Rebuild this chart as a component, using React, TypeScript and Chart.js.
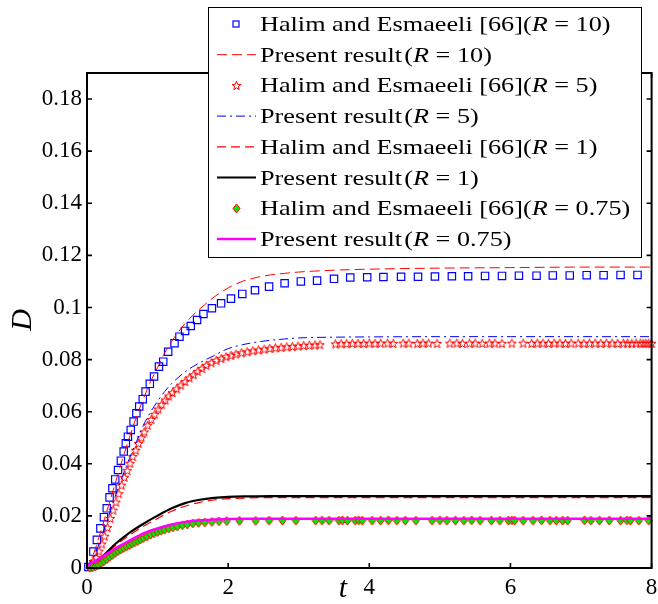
import { useEffect, useRef } from 'react';
import { Chart, registerables } from 'chart.js';

Chart.register(...registerables);

const SERIF = "'Liberation Serif', 'Times New Roman', serif";

// Axis ticks
const xTicks = [0, 2, 4, 6, 8];
const yTicks = [0, 0.02, 0.04, 0.06, 0.08, 0.1, 0.12, 0.14, 0.16, 0.18];
const yTickLabels = ['0', '0.02', '0.04', '0.06', '0.08', '0.1', '0.12', '0.14', '0.16', '0.18'];

// Halim and Esmaeeli [66], R = 10 (squares)
const halim10T = [0.02, 0.09, 0.14, 0.19, 0.24, 0.28, 0.32, 0.36, 0.40, 0.44, 0.48, 0.52, 0.55, 0.58, 0.62, 0.66, 0.70, 0.74, 0.79, 0.83, 0.89, 0.95, 1.02, 1.08, 1.15, 1.24, 1.31, 1.39, 1.47, 1.56, 1.65, 1.77, 1.90, 2.04, 2.20, 2.38, 2.58, 2.80, 3.03, 3.26, 3.50, 3.73, 3.97, 4.20, 4.45, 4.69, 4.93, 5.17, 5.40, 5.64, 5.88, 6.12, 6.37, 6.60, 6.84, 7.08, 7.32, 7.56, 7.80];
const halim10D = [0.0004, 0.0063, 0.0108, 0.0152, 0.0195, 0.0229, 0.0271, 0.0306, 0.0340, 0.0376, 0.0412, 0.0447, 0.0479, 0.0504, 0.0530, 0.0562, 0.0594, 0.0620, 0.0648, 0.0677, 0.0707, 0.0735, 0.0773, 0.0792, 0.0830, 0.0863, 0.0888, 0.0910, 0.0929, 0.0952, 0.0975, 0.0997, 0.1016, 0.1034, 0.1052, 0.1066, 0.1080, 0.1093, 0.1100, 0.1103, 0.1110, 0.1115, 0.1116, 0.1117, 0.1118, 0.1118, 0.1119, 0.1120, 0.1120, 0.1121, 0.1121, 0.1122, 0.1122, 0.1123, 0.1123, 0.1124, 0.1124, 0.1125, 0.1125];

// Present result, R = 10
const present10T = [0, 0.1, 0.2, 0.3, 0.4, 0.5, 0.6, 0.7, 0.8, 0.9, 1.0, 1.1, 1.2, 1.3, 1.4, 1.5, 1.6, 1.7, 1.8, 2.0, 2.2, 2.4, 2.6, 2.8, 3.0, 3.5, 4, 5, 6, 7, 8];
const present10D = [0, 0.006, 0.0145, 0.0235, 0.0325, 0.0415, 0.050, 0.058, 0.065, 0.0715, 0.077, 0.0825, 0.087, 0.0908, 0.0942, 0.097, 0.0995, 0.1018, 0.1040, 0.1075, 0.1100, 0.1115, 0.1125, 0.1131, 0.1136, 0.1143, 0.1147, 0.1151, 0.1153, 0.1155, 0.1155];

// Halim and Esmaeeli [66], R = 5 (stars)
const halim5T = [0.05, 0.09, 0.13, 0.17, 0.21, 0.25, 0.29, 0.33, 0.37, 0.41, 0.45, 0.49, 0.53, 0.57, 0.61, 0.65, 0.69, 0.73, 0.77, 0.81, 0.86, 0.91, 0.96, 1.01, 1.06, 1.11, 1.16, 1.21, 1.27, 1.33, 1.39, 1.45, 1.51, 1.57, 1.63, 1.69, 1.76, 1.83, 1.90, 1.97, 2.04, 2.11, 2.19, 2.27, 2.35, 2.43, 2.51, 2.59, 2.67, 2.75, 2.83, 2.91, 2.99, 3.07, 3.15, 3.23, 3.30,
  3.52, 3.60, 3.68, 3.76, 3.84, 3.92, 4.00, 4.08, 4.16, 4.26, 4.34, 4.48, 4.56, 4.68, 4.76, 4.84, 4.96, 5.14, 5.24, 5.32, 5.42, 5.50, 5.60, 5.70, 5.78, 5.88, 6.02, 6.18, 6.30, 6.38, 6.46, 6.54, 6.62, 6.70, 6.78, 6.86, 6.96, 7.04, 7.12, 7.20, 7.28, 7.36, 7.44, 7.52, 7.60, 7.66, 7.72, 7.78, 7.84, 7.88, 7.92, 7.96, 8.00];
const halim5D = [0.001, 0.0025, 0.004, 0.0065, 0.0092, 0.0122, 0.0155, 0.0190, 0.0222, 0.0253, 0.0285, 0.0318, 0.0348, 0.0374, 0.0402, 0.0428, 0.0452, 0.0478, 0.0500, 0.0522, 0.0548, 0.0570, 0.0590, 0.0610, 0.0628, 0.0645, 0.0660, 0.0673, 0.0688, 0.0702, 0.0716, 0.0730, 0.0742, 0.0755, 0.0766, 0.0778, 0.0788, 0.0797, 0.0804, 0.0811, 0.0816, 0.0821, 0.0826, 0.0830, 0.0834, 0.0837, 0.0840, 0.0843, 0.0845, 0.0847, 0.0849, 0.0850, 0.0852, 0.0854, 0.0855, 0.0856, 0.0857,
  0.0860, 0.0861, 0.0861, 0.0862, 0.0862, 0.0862, 0.0863, 0.0862, 0.0863, 0.0863, 0.0862, 0.0863, 0.0863, 0.0862, 0.0863, 0.0863, 0.0862, 0.0863, 0.0863, 0.0862, 0.0863, 0.0863, 0.0862, 0.0863, 0.0863, 0.0862, 0.0863, 0.0863, 0.0862, 0.0863, 0.0863, 0.0862, 0.0863, 0.0863, 0.0862, 0.0863, 0.0863, 0.0862, 0.0863, 0.0863, 0.0862, 0.0863, 0.0863, 0.0862, 0.0863, 0.0863, 0.0862, 0.0863, 0.0863, 0.0862, 0.0863, 0.0863, 0.0862];

// Present result, R = 5
const present5T = [0, 0.1, 0.2, 0.3, 0.4, 0.5, 0.6, 0.7, 0.8, 0.9, 1.0, 1.1, 1.2, 1.3, 1.4, 1.5, 1.6, 1.7, 1.8, 1.9, 2.0, 2.2, 2.4, 2.6, 2.8, 3.0, 3.5, 4, 5, 6, 7, 8];
const present5D = [0, 0.0045, 0.0115, 0.0195, 0.0275, 0.0350, 0.0420, 0.0485, 0.0548, 0.0598, 0.0640, 0.0677, 0.0708, 0.0733, 0.0755, 0.0773, 0.0788, 0.0802, 0.0815, 0.0830, 0.0842, 0.0857, 0.0867, 0.0874, 0.0879, 0.0883, 0.0886, 0.0887, 0.0888, 0.0888, 0.0888, 0.0888];

// Halim and Esmaeeli [66], R = 1 (dashed line)
const halim1T = [0, 0.2, 0.4, 0.6, 0.8, 1.0, 1.2, 1.4, 1.6, 1.8, 2.0, 2.3, 2.6, 3, 4, 5, 6, 7, 8];
const halim1D = [0, 0.0035, 0.0085, 0.0125, 0.0160, 0.0190, 0.0218, 0.0238, 0.0252, 0.0261, 0.0266, 0.0269, 0.0270, 0.0270, 0.0270, 0.0270, 0.0270, 0.0270, 0.0270];

// Present result, R = 1
const present1T = [0, 0.2, 0.4, 0.6, 0.8, 1.0, 1.2, 1.4, 1.6, 1.8, 2.0, 2.3, 2.6, 3, 4, 5, 6, 7, 8];
const present1D = [0.0005, 0.0040, 0.0092, 0.0135, 0.0170, 0.0201, 0.0229, 0.0250, 0.0262, 0.0269, 0.0273, 0.0275, 0.0276, 0.0276, 0.0276, 0.0276, 0.0276, 0.0276, 0.0276];

// Halim and Esmaeeli [66], R = 0.75 (diamonds)
const halim075T = [0.04, 0.08, 0.12, 0.16, 0.20, 0.24, 0.28, 0.32, 0.36, 0.40, 0.44, 0.48, 0.52, 0.56, 0.60, 0.64, 0.68, 0.72, 0.76, 0.80, 0.85, 0.90, 0.95, 1.00, 1.05, 1.10, 1.16, 1.22, 1.28, 1.35, 1.42, 1.50, 1.58, 1.67, 1.77, 1.87, 1.98,
  2.16, 2.39, 2.58, 2.77, 2.96, 3.24, 3.33, 3.43, 3.57, 3.62, 3.69, 3.80, 3.85, 3.90, 4.04, 4.16, 4.27, 4.39, 4.51, 4.66, 4.89, 5.00, 5.10, 5.22, 5.34, 5.45, 5.57, 5.73, 5.85, 5.97, 6.02, 6.06, 6.18, 6.32, 6.44, 6.56, 6.65, 6.74, 6.81, 7.05, 7.14, 7.26, 7.40, 7.56, 7.65, 7.70, 7.82, 7.96];
const halim075D = [0.0001, 0.0003, 0.0006, 0.0011, 0.0018, 0.0026, 0.0034, 0.0042, 0.0050, 0.0058, 0.0065, 0.0071, 0.0077, 0.0083, 0.0088, 0.0094, 0.0099, 0.0104, 0.0110, 0.0115, 0.0121, 0.0128, 0.0133, 0.0138, 0.0143, 0.0147, 0.0152, 0.0156, 0.0160, 0.0164, 0.0167, 0.0171, 0.0173, 0.0175, 0.0177, 0.0179, 0.0180,
  0.0181, 0.0181, 0.0182, 0.0182, 0.0182, 0.0182, 0.0182, 0.0182, 0.0182, 0.0183, 0.0182, 0.0182, 0.0183, 0.0182, 0.0182, 0.0182, 0.0183, 0.0182, 0.0182, 0.0182, 0.0182, 0.0183, 0.0182, 0.0182, 0.0182, 0.0183, 0.0182, 0.0182, 0.0182, 0.0182, 0.0183, 0.0182, 0.0182, 0.0182, 0.0183, 0.0182, 0.0182, 0.0182, 0.0182, 0.0183, 0.0182, 0.0182, 0.0182, 0.0182, 0.0183, 0.0182, 0.0182, 0.0182];

// Present result, R = 0.75
const present075T = [0, 0.2, 0.4, 0.6, 0.8, 1.0, 1.2, 1.4, 1.6, 1.8, 2.0, 2.3, 2.6, 3, 4, 5, 6, 7, 8];
const present075D = [0.0008, 0.0040, 0.0075, 0.0105, 0.0133, 0.0152, 0.0167, 0.0177, 0.0183, 0.0186, 0.0188, 0.0189, 0.0189, 0.0189, 0.0189, 0.0189, 0.0189, 0.0189, 0.0189];

// Legend entries
const legendNames = ['Halim and Esmaeeli [66]', 'Present result\u200A', 'Halim and Esmaeeli [66]', 'Present result\u200A', 'Halim and Esmaeeli [66]', 'Present result\u200A', 'Halim and Esmaeeli [66]', 'Present result\u200A'];
const legendR = ['10', '10', '5', '5', '1', '1', '0.75', '0.75'];

const pts = (t: number[], d: number[]) => t.map((v, i) => ({ x: v, y: d[i] }));

function starImage(): HTMLCanvasElement {
  const c = document.createElement('canvas');
  const s = 11;
  c.width = s;
  c.height = s;
  const g = c.getContext('2d')!;
  g.strokeStyle = '#ff0000';
  g.lineWidth = 1;
  g.beginPath();
  for (let k = 0; k < 10; k++) {
    const a = -Math.PI / 2 + (k * Math.PI) / 5;
    const r = k % 2 === 0 ? 4.7 : 1.9;
    const px = s / 2 + r * Math.cos(a);
    const py = s / 2 + 0.4 + r * Math.sin(a);
    if (k === 0) g.moveTo(px, py);
    else g.lineTo(px, py);
  }
  g.closePath();
  g.stroke();
  return c;
}

function diamondImage(): HTMLCanvasElement {
  const c = document.createElement('canvas');
  c.width = 9;
  c.height = 11;
  const g = c.getContext('2d')!;
  g.beginPath();
  g.moveTo(4.5, 1);
  g.lineTo(8, 5.5);
  g.lineTo(4.5, 10);
  g.lineTo(1, 5.5);
  g.closePath();
  g.fillStyle = '#00ee00';
  g.fill();
  g.strokeStyle = '#ff0000';
  g.lineWidth = 1;
  g.stroke();
  return c;
}

export default function App() {
  const ref = useRef<HTMLCanvasElement>(null);

  useEffect(() => {
    const canvas = ref.current;
    if (!canvas) return;
    const star = starImage();
    const diamond = diamondImage();

    const datasets: any[] = [
      { data: pts(halim10T, halim10D), pointStyle: 'rect', pointRadius: 5.2, borderColor: '#0000ff', backgroundColor: 'rgba(0,0,0,0)', borderWidth: 1, pointBorderWidth: 1.2, clip: 8 },
      { data: pts(present10T, present10D), showLine: true, pointRadius: 0, borderColor: '#ff0000', borderWidth: 1, borderDash: [10, 5], cubicInterpolationMode: 'monotone' },
      { data: pts(halim5T, halim5D), pointStyle: star, pointRadius: 5, borderColor: '#ff0000', clip: 8 },
      { data: pts(present5T, present5D), showLine: true, pointRadius: 0, borderColor: '#0000ff', borderWidth: 1, borderDash: [9, 4, 2, 4], cubicInterpolationMode: 'monotone' },
      { data: pts(halim1T, halim1D), showLine: true, pointRadius: 0, borderColor: '#ff0000', borderWidth: 1.2, borderDash: [9, 5], cubicInterpolationMode: 'monotone' },
      { data: pts(present1T, present1D), showLine: true, pointRadius: 0, borderColor: '#000000', borderWidth: 2.2, cubicInterpolationMode: 'monotone' },
      { data: pts(halim075T, halim075D), pointStyle: diamond, pointRadius: 5, borderColor: '#ff0000', clip: 8 },
      { data: pts(present075T, present075D), showLine: true, pointRadius: 0, borderColor: '#ff00ff', borderWidth: 2.5, cubicInterpolationMode: 'monotone' },
    ];
    // later series drawn on top
    datasets.forEach((d, i) => { d.order = datasets.length - i; });

    const frame = {
      id: 'frame',
      afterDatasetsDraw(chart: any) {
        const { ctx, chartArea, scales } = chart;
        const { left, right, top, bottom } = chartArea;
        ctx.save();
        ctx.strokeStyle = '#000';
        ctx.lineWidth = 2;
        ctx.strokeRect(left, top, right - left, bottom - top);
        ctx.lineWidth = 1.6;
        ctx.beginPath();
        const tl = 5;
        xTicks.forEach((v) => {
          const px = scales.x.getPixelForValue(v);
          ctx.moveTo(px, bottom);
          ctx.lineTo(px, bottom - tl);
          ctx.moveTo(px, top);
          ctx.lineTo(px, top + tl);
        });
        yTicks.forEach((v) => {
          const py = scales.y.getPixelForValue(v);
          ctx.moveTo(left, py);
          ctx.lineTo(left + tl, py);
          ctx.moveTo(right, py);
          ctx.lineTo(right - tl, py);
        });
        ctx.stroke();
        ctx.restore();
      },
    };

    const legendBox = {
      id: 'legendBox',
      afterDraw(chart: any) {
        const { ctx } = chart;
        ctx.save();
        // axis titles
        ctx.fillStyle = '#000';
        ctx.font = `italic 30px ${SERIF}`;
        ctx.textAlign = 'center';
        ctx.textBaseline = 'middle';
        ctx.save();
        ctx.translate(23, 320);
        ctx.rotate(-Math.PI / 2);
        ctx.fillText('D', 0, 0);
        ctx.restore();
        ctx.fillText('t', 343, 589);

        // legend box
        const bx = 208, by = 7, bw = 433, bh = 250;
        ctx.fillStyle = '#fff';
        ctx.fillRect(bx, by, bw, bh);
        ctx.strokeStyle = '#000';
        ctx.lineWidth = 1;
        ctx.strokeRect(bx + 0.5, by + 0.5, bw, bh);

        const rowH = 30.7;
        const sx = 1.22;
        const size = 21.5;
        datasets.forEach((d, i) => {
          const cy = 24 + i * rowH;
          if (d.showLine) {
            ctx.save();
            ctx.strokeStyle = d.borderColor;
            ctx.lineWidth = d.borderWidth;
            ctx.setLineDash(d.borderDash || []);
            ctx.beginPath();
            ctx.moveTo(217, cy);
            ctx.lineTo(256, cy);
            ctx.stroke();
            ctx.restore();
          } else if (d.pointStyle === 'rect') {
            ctx.save();
            ctx.strokeStyle = d.borderColor;
            ctx.lineWidth = 1.2;
            ctx.strokeRect(233, cy - 3, 6, 6);
            ctx.restore();
          } else {
            const img = d.pointStyle as HTMLCanvasElement;
            ctx.drawImage(img, Math.round(236 - img.width / 2), Math.round(cy - img.height / 2));
          }
          // label text: name, italic R, value
          ctx.save();
          ctx.translate(260, cy + 7);
          ctx.scale(sx, 1);
          ctx.fillStyle = '#000';
          ctx.textAlign = 'left';
          ctx.textBaseline = 'alphabetic';
          const parts: [string, boolean][] = [[legendNames[i] + '(', false], ['R', true], [' = ' + legendR[i] + ')', false]];
          let cx = 0;
          parts.forEach(([txt, it]) => {
            ctx.font = `${it ? 'italic ' : ''}${size}px ${SERIF}`;
            ctx.fillText(txt, cx, 0);
            cx += ctx.measureText(txt).width;
          });
          ctx.restore();
        });
        ctx.restore();
      },
    };

    const tickFont = { family: SERIF, size: 23 };

    const chart = new Chart(canvas, {
      type: 'scatter',
      data: { datasets },
      options: {
        animation: false,
        responsive: false,
        events: [],
        layout: { padding: { top: 73, right: 4, left: 0, bottom: 0 } },
        plugins: { legend: { display: false }, tooltip: { enabled: false } },
        scales: {
          x: {
            type: 'linear',
            min: 0,
            max: 8,
            grid: { display: false, drawTicks: false },
            border: { display: false },
            afterBuildTicks: (s: any) => { s.ticks = xTicks.map((value) => ({ value })); },
            afterFit: (s: any) => { s.height = 36; s.paddingLeft = 0; s.paddingRight = 0; },
            ticks: { font: tickFont, color: '#000', padding: 6, maxRotation: 0, autoSkip: false, callback: (v: any) => String(v) },
          },
          y: {
            type: 'linear',
            min: 0,
            max: 0.19,
            grid: { display: false, drawTicks: false },
            border: { display: false },
            afterBuildTicks: (s: any) => { s.ticks = yTicks.map((value) => ({ value })); },
            afterFit: (s: any) => { s.width = 87; s.paddingTop = 0; s.paddingBottom = 0; },
            ticks: { font: tickFont, color: '#000', padding: 5, autoSkip: false, callback: (_v: any, i: number) => yTickLabels[i] },
          },
        },
      } as any,
      plugins: [frame, legendBox],
    });

    return () => chart.destroy();
  }, []);

  return (
    <div style={{ position: 'fixed', left: 0, top: 0, width: 658, height: 604, background: '#fff' }}>
      <canvas ref={ref} width={658} height={604} style={{ display: 'block' }} />
    </div>
  );
}
